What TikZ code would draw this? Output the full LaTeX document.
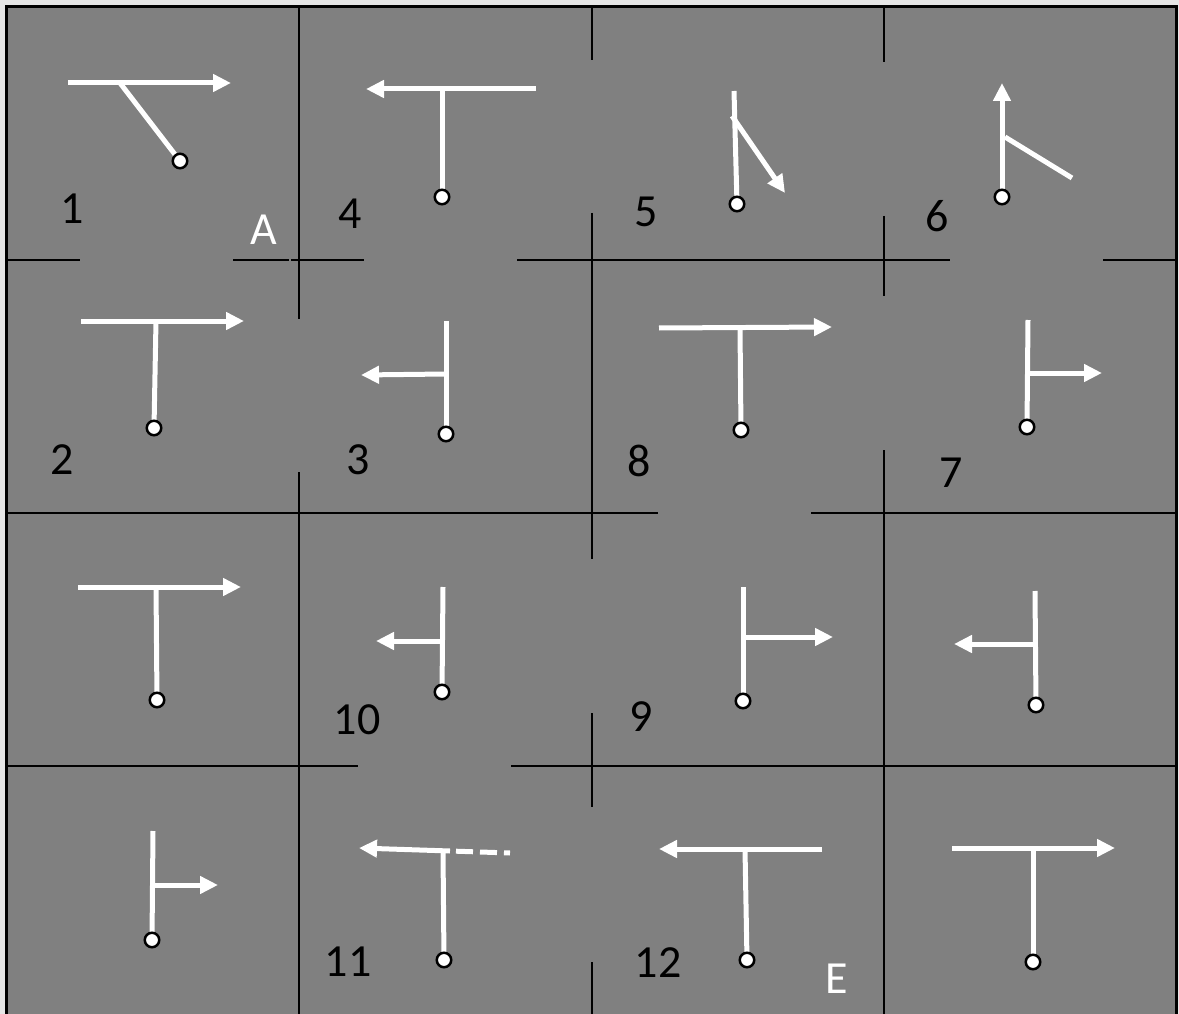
\documentclass[tikz,border=0pt]{standalone}
\usepackage{fontspec}
\setmainfont{Carlito}
\usetikzlibrary{arrows.meta}
\definecolor{cellgray}{HTML}{808080}
\definecolor{margingray}{HTML}{E6E6E6}
\begin{document}
\begin{tikzpicture}[x=1pt,y=-1pt,
  gridline/.style={black, line width=2.4pt},
  borderline/.style={black, line width=3.5pt},
  wline/.style={white, line width=5pt},
  warrow/.style={wline, -{Triangle[length=18pt,width=17pt]}},
  wdash/.style={wline, dash pattern=on 17pt off 7pt, dash phase=18pt},
  knob/.style={circle, draw=black, fill=white, line width=2.5pt, minimum size=14.5pt, inner sep=0pt},
  num/.style={font=\fontsize{46}{50}\selectfont, text=black, inner sep=0pt},
  letter/.style={num, text=white}]
\useasboundingbox (0,0) rectangle (1179,1014);
\fill[margingray] (0,0) rectangle (1179,1014);
\fill[cellgray] (6.5,6.5) rectangle (1176.5,1014);
% border
\draw[borderline] (6.5,1014) -- (6.5,6.5) -- (1176.5,6.5) -- (1176.5,1014);
% horizontal grid lines
\draw[gridline] (6.5,260) -- (80,260);
\draw[gridline] (233,260) -- (289,260);
\draw[gridline] (291,260) -- (364,260);
\draw[gridline] (517,260) -- (950,260);
\draw[gridline] (1103,260) -- (1176.5,260);
\draw[gridline] (6.5,513) -- (658,513);
\draw[gridline] (811,513) -- (1176.5,513);
\draw[gridline] (6.5,766) -- (358,766);
\draw[gridline] (511,766) -- (1176.5,766);
% vertical grid lines
\draw[gridline] (299,6.5) -- (299,319);
\draw[gridline] (299,472) -- (299,1014);
\draw[gridline] (592,6.5) -- (592,60);
\draw[gridline] (592,213) -- (592,559);
\draw[gridline] (592,713) -- (592,807);
\draw[gridline] (592,962) -- (592,1014);
\draw[gridline] (884,6.5) -- (884,62);
\draw[gridline] (884,216) -- (884,296);
\draw[gridline] (884,450) -- (884,1014);

% ---------- row 1 ----------
% cell 1
\coordinate (a1) at (68,83); \coordinate (b1) at (231,83);
\coordinate (j1) at (120,83); \coordinate (p1) at (180,161);
\draw[warrow] (a1) -- (b1);
\draw[wline] (j1) -- (p1);
% cell 4
\coordinate (a4) at (536,89); \coordinate (b4) at (366,89);
\coordinate (j4) at (442,89); \coordinate (p4) at (442,197);
\draw[warrow] (a4) -- (b4);
\draw[wline] (j4) -- (p4);
% cell 5
\coordinate (t5) at (734,91); \coordinate (p5) at (737,204);
\coordinate (j5) at (732,116); \coordinate (b5) at (785,193);
\draw[wline] (t5) -- (p5);
\draw[warrow] (j5) -- (b5);
% cell 6
\coordinate (p6) at (1002,197); \coordinate (t6) at (1002,83);
\coordinate (j6) at (1005,137); \coordinate (e6) at (1072,178);
\draw[warrow] (p6) -- (t6);
\draw[wline] (j6) -- (e6);

% ---------- row 2 ----------
% cell 2
\coordinate (a2) at (81,321); \coordinate (b2) at (244,321);
\coordinate (j2) at (156,321); \coordinate (p2) at (154,428);
\draw[warrow] (a2) -- (b2);
\draw[wline] (j2) -- (p2);
% cell 3
\coordinate (t3) at (446,321); \coordinate (p3) at (446,434);
\coordinate (j3) at (446,374); \coordinate (b3) at (361,375);
\draw[wline] (t3) -- (p3);
\draw[warrow] (j3) -- (b3);
% cell 8
\coordinate (a8) at (659,328); \coordinate (b8) at (832,327);
\coordinate (j8) at (740,328); \coordinate (p8) at (741,430);
\draw[warrow] (a8) -- (b8);
\draw[wline] (j8) -- (p8);
% cell 7
\coordinate (t7) at (1028,320); \coordinate (p7) at (1027,427);
\coordinate (j7) at (1028,373); \coordinate (b7) at (1102,373);
\draw[wline] (t7) -- (p7);
\draw[warrow] (j7) -- (b7);

% ---------- row 3 ----------
% cell r3c1
\coordinate (a31) at (78,587); \coordinate (b31) at (241,587);
\coordinate (j31) at (156,587); \coordinate (p31) at (157,700);
\draw[warrow] (a31) -- (b31);
\draw[wline] (j31) -- (p31);
% cell 10
\coordinate (t10) at (443,587); \coordinate (p10) at (442,692);
\coordinate (j10) at (443,641); \coordinate (b10) at (376,641);
\draw[wline] (t10) -- (p10);
\draw[warrow] (j10) -- (b10);
% cell 9
\coordinate (t9) at (743,587); \coordinate (p9) at (743,701);
\coordinate (j9) at (743,637); \coordinate (b9) at (833,637);
\draw[wline] (t9) -- (p9);
\draw[warrow] (j9) -- (b9);
% cell r3c4
\coordinate (t34) at (1035,591); \coordinate (p34) at (1036,705);
\coordinate (j34) at (1035,644); \coordinate (b34) at (954,644);
\draw[wline] (t34) -- (p34);
\draw[warrow] (j34) -- (b34);

% ---------- row 4 ----------
% cell r4c1
\coordinate (t41) at (153,831); \coordinate (p41) at (152,940);
\coordinate (j41) at (153,885); \coordinate (b41) at (218,885);
\draw[wline] (t41) -- (p41);
\draw[warrow] (j41) -- (b41);
% cell 11
\coordinate (s11) at (450,851); \coordinate (b11) at (359,848);
\coordinate (e11) at (510,853);
\coordinate (j11) at (443,851); \coordinate (p11) at (444,960);
\draw[warrow] (s11) -- (b11);
\draw[wdash] (s11) -- (e11);
\draw[wline] (j11) -- (p11);
% cell 12
\coordinate (a12) at (822,849); \coordinate (b12) at (659,849);
\coordinate (j12) at (745,849); \coordinate (p12) at (747,960);
\draw[warrow] (a12) -- (b12);
\draw[wline] (j12) -- (p12);
% cell r4c4
\coordinate (a44) at (952,848); \coordinate (b44) at (1115,848);
\coordinate (j44) at (1033,848); \coordinate (p44) at (1033,962);
\draw[warrow] (a44) -- (b44);
\draw[wline] (j44) -- (p44);

% knobs
\foreach \p in {p1,p4,p5,p6,p2,p3,p8,p7,p31,p10,p9,p34,p41,p11,p12,p44}
  \node[knob] (k\p) at (\p) {};

% labels
\node[num] (n1) at (72,209) {1};
\node[letter] (lA) at (264,230) {A};
\node[num] (n4) at (350,214) {4};
\node[num] (n5) at (646,212) {5};
\node[num] (n6) at (937,216) {6};
\node[num] (n2) at (62,460) {2};
\node[num] (n3) at (358,460) {3};
\node[num] (n8) at (639,461) {8};
\node[num] (n7) at (951,473) {7};
\node[num] (n10) at (357,720) {10};
\node[num] (n9) at (641,717) {9};
\node[num] (n11) at (348,962) {11};
\node[num] (n12) at (658,963) {12};
\node[letter] (lE) at (837,979) {E};
\end{tikzpicture}
\end{document}
